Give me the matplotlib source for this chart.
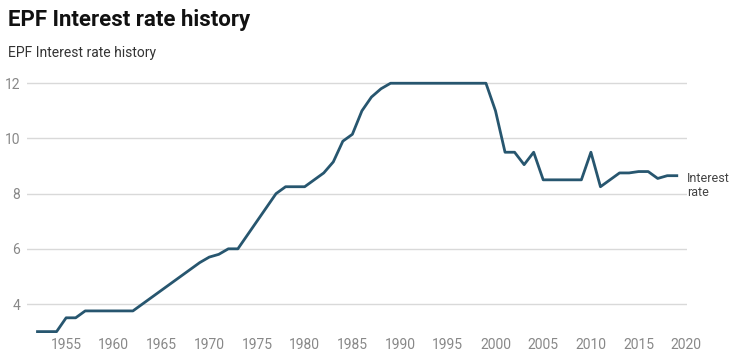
import matplotlib
matplotlib.use("Agg")
import matplotlib.pyplot as plt

years = list(range(1952, 2020))
rates = [3.00, 3.00, 3.00, 3.50, 3.50, 3.75, 3.75, 3.75, 3.75, 3.75,
         3.75, 4.00, 4.25, 4.50, 4.75, 5.00, 5.25, 5.50, 5.70, 5.80,
         6.00, 6.00, 6.50, 7.00, 7.50, 8.00, 8.25, 8.25, 8.25, 8.50,
         8.75, 9.15, 9.90, 10.15, 11.00, 11.50, 11.80, 12.00, 12.00, 12.00,
         12.00, 12.00, 12.00, 12.00, 12.00, 12.00, 12.00, 12.00, 11.00, 9.50,
         9.50, 9.05, 9.50, 8.50, 8.50, 8.50, 8.50, 8.50, 9.50, 8.25,
         8.50, 8.75, 8.75, 8.80, 8.80, 8.55, 8.65, 8.65]
yticks = [4, 6, 8, 10, 12]
xticks = list(range(1955, 2021, 5))
series_label = "Interest\nrate"

plt.rcParams['font.family'] = ['Roboto', 'DejaVu Sans']

W, H = 737, 354
fig = plt.figure(figsize=(W / 100, H / 100), dpi=100)
left, right, top, bottom = 27, 687, 70, 335
ax = fig.add_axes([left / W, 1 - bottom / H, (right - left) / W, (bottom - top) / H])

ax.plot(years, rates, color='#27566f', linewidth=2, solid_joinstyle='round')
ax.set_xlim(1950.9, 2020.07)
ax.set_ylim(2.877, 12.48)
ax.set_yticks(yticks)
ax.set_xticks(xticks)
ax.grid(axis='y', color='#d9d9d9', linewidth=1)
ax.set_axisbelow(True)
for s in ax.spines.values():
    s.set_visible(False)
ax.tick_params(axis='both', length=0, labelcolor='#888888', labelsize=10)
ax.tick_params(axis='y', pad=5)
ax.tick_params(axis='x', pad=2)

ax.annotate(series_label, xy=(years[-1], rates[-1]), xytext=(7.5, -7),
            textcoords='offset points', va='center', ha='left',
            fontsize=9, color='#444444', linespacing=1.05, annotation_clip=False)

fig.text(8 / W, 1 - 20 / H, "EPF Interest rate history", fontsize=16, fontweight='bold',
         color='#111111', va='center', ha='left')
fig.text(8 / W, 1 - 53 / H, "EPF Interest rate history", fontsize=10,
         color='#333333', va='center', ha='left')

fig.savefig('out.png', dpi=100)
